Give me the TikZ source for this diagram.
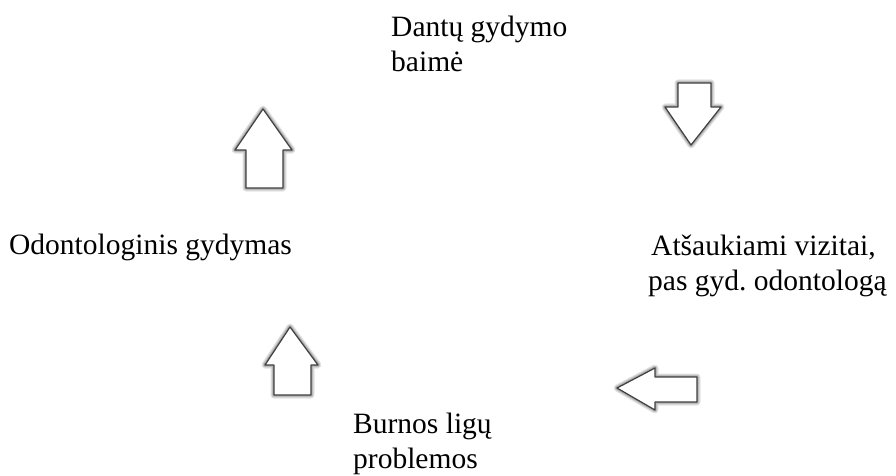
\documentclass[tikz,border=0pt]{standalone}
\usepackage{fontspec}
\setmainfont{Liberation Serif}
\newfontfamily\labelfont{Liberation Serif}
\frenchspacing
\begin{document}
\begin{tikzpicture}[x=1pt,y=-1pt,
  label/.style={anchor=base west,inner sep=0pt,align=left,
    font=\labelfont\fontsize{29.5}{35}\selectfont},
  rimA/.style={draw=gray!22,line width=7pt,line join=round},
  rimB/.style={draw=gray!45,line width=4.8pt,line join=round},
  rimC/.style={draw=gray!70,line width=2.8pt,line join=round},
  arrowedge/.style={draw=black!75,line width=1.2pt,line join=round,fill=white}]
\useasboundingbox (0,0) rectangle (896,476);

% labels of the cycle (anchored at the baseline of their last line)
\node[label] (fear)   at (391,72)  {Dantų gydymo\\baimė};
\node[label] (cancel) at (648,290) {\hspace*{3pt}Atšaukiami vizitai,\\pas gyd. odontologą};
\node[label] (oral)   at (353,468) {Burnos ligų\\problemos};
\node[label] (treat)  at (9,254)   {Odontologinis gydymas};

% block arrows between the labels
\def\downarrowpath{(678,83) -- (711,83) -- (711,107) -- (721,107) -- (691,145) -- (665,107) -- (678,107) -- cycle}
\def\leftarrowpath{(697,377) -- (655,377) -- (655,368) -- (617,388) -- (655,410) -- (655,402) -- (697,402) -- cycle}
\def\uparrowlow{(274,395) -- (311,395) -- (311,365) -- (318,365) -- (290,327) -- (265,365) -- (274,365) -- cycle}
\def\uparrowhigh{(246,188) -- (283,188) -- (283,150) -- (292,150) -- (263,109) -- (235,150) -- (246,150) -- cycle}

\foreach \p in {\downarrowpath,\leftarrowpath,\uparrowlow,\uparrowhigh}{
  \path[rimA] \p;
  \path[rimB] \p;
  \path[rimC] \p;
  \path[arrowedge] \p;
}
\end{tikzpicture}
\end{document}
